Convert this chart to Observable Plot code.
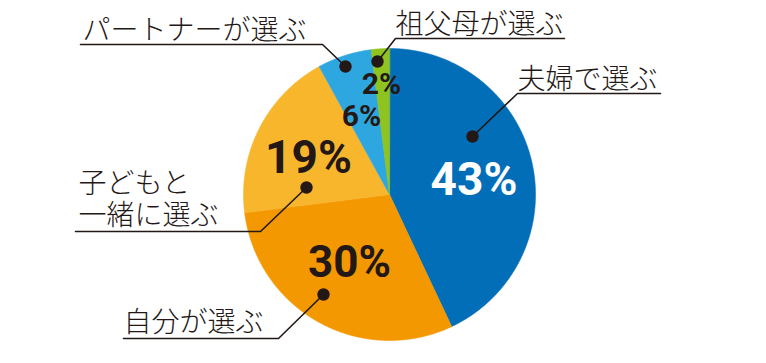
<!DOCTYPE html>
<html><head><meta charset="utf-8">
<script src="https://cdn.jsdelivr.net/npm/d3@7"></script>
<script src="https://cdn.jsdelivr.net/npm/@observablehq/plot@0.6"></script>
<style>html,body{margin:0;padding:0;background:#fff;}</style>
</head><body><div id="chart"></div>
<script>
// ---- data ----
const categories = ["夫婦で選ぶ", "自分が選ぶ", "子どもと\n一緒に選ぶ", "パートナーが選ぶ", "祖父母が選ぶ"];
const values = [43, 30, 19, 6, 2];
const percentLabels = ["43%", "30%", "19%", "6%", "2%"];
const colors = ["#036eb8", "#f39800", "#f8b62d", "#2ea7e0", "#8fc31f"];

// ---- layout (pixel space) ----
const W = 766, H = 363;
const pie = {cx: 389, cy: 194, r: 146};
const pctLayout = [
  {x: 473.5, y: 180, size: 46, color: "#ffffff"},
  {x: 349, y: 262.5, size: 44, color: "#231815"},
  {x: 308, y: 158, size: 46, color: "#231815"},
  {x: 361, y: 115.5, size: 30, color: "#231815"},
  {x: 381, y: 84, size: 30, color: "#231815"}
];
const nameLayout = [
  {x: 517, y: 78},
  {x: 123, y: 321.5},
  {x: 78, y: 198.5},
  {x: 82, y: 29},
  {x: 395, y: 23}
];
const leaderLayout = [
  [[472, 136], [517, 93], [660, 93]],
  [[323, 294], [278, 338], [123, 338]],
  [[306, 187], [260, 231], [75, 231]],
  [[345, 66], [322, 44], [80, 44]],
  [[377, 61], [395, 38], [564, 38]]
];

// ---- geometry from data ----
const arcs = d3.pie().sort(null).value(d => d)(values);
const slicePts = [];
arcs.forEach((a, i) => {
  slicePts.push({i, cat: categories[i], x: pie.cx, y: pie.cy});
  const n = Math.max(4, Math.ceil((a.endAngle - a.startAngle) / (Math.PI / 720)));
  for (let k = 0; k <= n; k++) {
    const t = a.startAngle + (a.endAngle - a.startAngle) * k / n;
    slicePts.push({i, cat: categories[i], x: pie.cx + pie.r * Math.sin(t), y: pie.cy - pie.r * Math.cos(t)});
  }
});
const pctData = percentLabels.map((t, i) => ({text: t, ...pctLayout[i]}));
const nameData = categories.map((t, i) => ({text: t, ...nameLayout[i]}));
const leaderPts = leaderLayout.flatMap((pts, i) => pts.map(([x, y]) => ({i, x, y})));
const dotPts = leaderLayout.map((pts, i) => ({i, x: pts[0][0], y: pts[0][1]}));

const ink = "#231815";
const chart = Plot.plot({
  width: W, height: H,
  margin: 0,
  x: {domain: [0, W], range: [0, W], axis: null},
  y: {domain: [0, H], range: [0, H], axis: null},
  color: {domain: categories, range: colors},
  style: {background: "#fff", overflow: "visible"},
  marks: [
    Plot.line(slicePts, {x: "x", y: "y", z: "cat", fill: "cat", stroke: "cat", strokeWidth: 0.6, curve: "linear-closed"}),
    Plot.line(leaderPts, {x: "x", y: "y", z: "i", stroke: ink, strokeWidth: 1.6, strokeLinejoin: "miter"}),
    Plot.dot(dotPts, {x: "x", y: "y", r: 6.2, fill: ink}),
    Plot.text(pctData, {x: "x", y: "y", text: "text", fill: d => d.color, fontSize: d => d.size, textAnchor: "middle", lineAnchor: "middle", fontFamily: "Roboto", fontWeight: "bold"}),
    Plot.text(nameData, {x: "x", y: "y", text: "text", fill: ink, fontSize: 28, textAnchor: "start", lineAnchor: "middle", lineHeight: 1.12, fontFamily: "Noto Sans CJK JP", fontWeight: 300})
  ]
});
document.getElementById("chart").appendChild(chart);
</script>
</body></html>
